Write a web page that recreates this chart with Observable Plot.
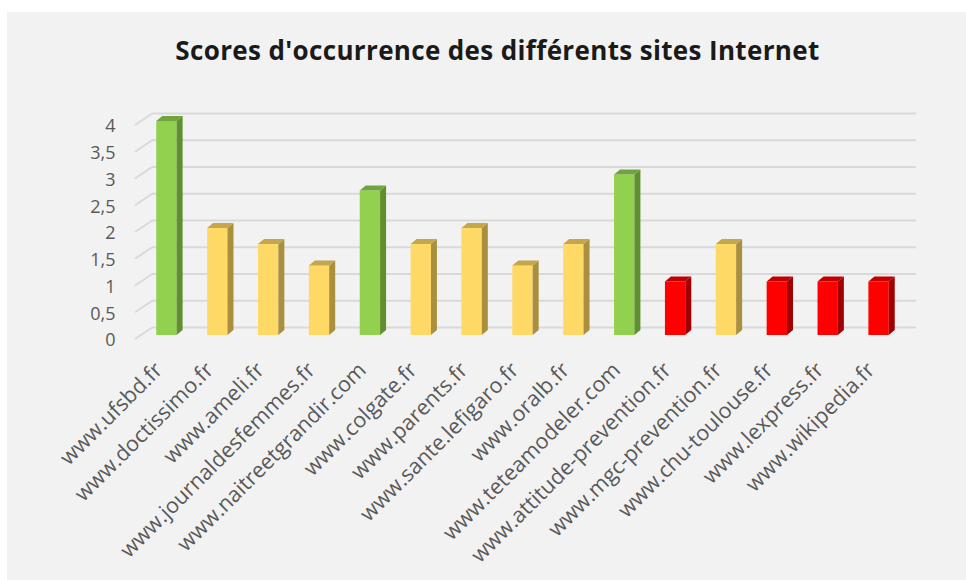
<!DOCTYPE html>
<html>
<head>
<meta charset="utf-8">
<script src="https://cdn.jsdelivr.net/npm/d3@7"></script>
<script src="https://cdn.jsdelivr.net/npm/@observablehq/plot@0.6"></script>
<style>
  html, body { margin: 0; padding: 0; background: #ffffff; }
  #panel { position: absolute; left: 7px; top: 12px; width: 959px; height: 568px; background: #f2f2f2; overflow: hidden; }
  #title { height: 60px; line-height: 76px; text-align: center; font-family: "Open Sans", sans-serif; font-weight: 700; font-size: 26px; letter-spacing: 0.35px; color: #1a1a1a; padding-left: 22px; box-sizing: border-box; }
  #chart svg { display: block; }
</style>
</head>
<body>
<div id="panel">
  <div id="title">Scores d'occurrence des différents sites Internet</div>
  <div id="chart"></div>
</div>
<script>
const sites = [
  "www.ufsbd.fr", "www.doctissimo.fr", "www.ameli.fr", "www.journaldesfemmes.fr",
  "www.naitreetgrandir.com", "www.colgate.fr", "www.parents.fr", "www.sante.lefigaro.fr",
  "www.oralb.fr", "www.teteamodeler.com", "www.attitude-prevention.fr", "www.mgc-prevention.fr",
  "www.chu-toulouse.fr", "www.lexpress.fr", "www.wikipedia.fr"
];
const scores = [4, 2, 1.7, 1.3, 2.7, 1.7, 2, 1.3, 1.7, 3, 1, 1.7, 1, 1, 1];
const groups = ["vert", "jaune", "jaune", "jaune", "vert", "jaune", "jaune", "jaune", "jaune", "vert", "rouge", "jaune", "rouge", "rouge", "rouge"];
const yTicks = [0, 0.5, 1, 1.5, 2, 2.5, 3, 3.5, 4];

const groupNames = ["vert", "jaune", "rouge"];
const frontColors = ["#92d050", "#ffd966", "#ff0000"];
const sideColors = ["#5f8f2f", "#a98f3e", "#a00000"];
const topColors = ["#6fa53c", "#c4a74c", "#c00000"];

const data = sites.map((site, i) => ({site, score: scores[i], group: groups[i]}));

const W = 959, H = 508;
const ML = 134, MR = 62, MT = 49, MB = 245;

const plot = Plot.plot({
  width: W, height: H,
  marginLeft: ML, marginRight: MR, marginTop: MT, marginBottom: MB,
  style: {background: "transparent", fontFamily: "'Open Sans', sans-serif", fontSize: "18px", color: "#595959", overflow: "visible"},
  x: {domain: sites, paddingInner: 0.6, paddingOuter: 0.3, round: false, label: null},
  y: {domain: [0, 4], label: null},
  color: {domain: groupNames, range: frontColors},
  marks: [
    Plot.ruleY(yTicks, {stroke: "#d9d9d9", strokeWidth: 2, dx: 12, dy: -8}),
    Plot.barY(data, {x: "site", y: "score", fill: "group"}),
    Plot.axisY({ticks: yTicks, tickSize: 0, tickPadding: 26, dy: 5, fill: "#595959", fontSize: 18,
      tickFormat: d => String(d).replace(".", ","), label: null}),
    Plot.axisX({tickSize: 0, tickPadding: 31, tickRotate: -45, dx: -8, fill: "#595959", fontSize: 21.5, label: null})
  ]
});

document.getElementById("chart").appendChild(plot);

// 3D faces and floor diagonals, positioned via the plot's own scales
const sx = plot.scale("x"), sy = plot.scale("y");
const bw = sx.bandwidth;
const D = 6, E = 5;
const svg = d3.select(plot.tagName.toLowerCase() === "svg" ? plot : plot.querySelector("svg"));

const diag = svg.insert("g", ":first-child");
yTicks.forEach(v => {
  const y = sy.apply(v);
  diag.append("line").attr("x1", ML - 6).attr("y1", y + 4).attr("x2", ML + 12).attr("y2", y - 8)
    .attr("stroke", "#d9d9d9").attr("stroke-width", 2);
});

const faces = svg.append("g");
data.forEach(d => {
  const gi = groupNames.indexOf(d.group);
  const xl = sx.apply(d.site), xr = xl + bw;
  const yt = sy.apply(d.score), yb = sy.apply(0);
  faces.append("polygon")
    .attr("points", [[xr, yt], [xr + D, yt - E], [xr + D, yb - E], [xr, yb]].join(" "))
    .attr("fill", sideColors[gi]);
  faces.append("polygon")
    .attr("points", [[xl, yt], [xr, yt], [xr + D, yt - E], [xl + D, yt - E]].join(" "))
    .attr("fill", topColors[gi]);
});
</script>
</body>
</html>
